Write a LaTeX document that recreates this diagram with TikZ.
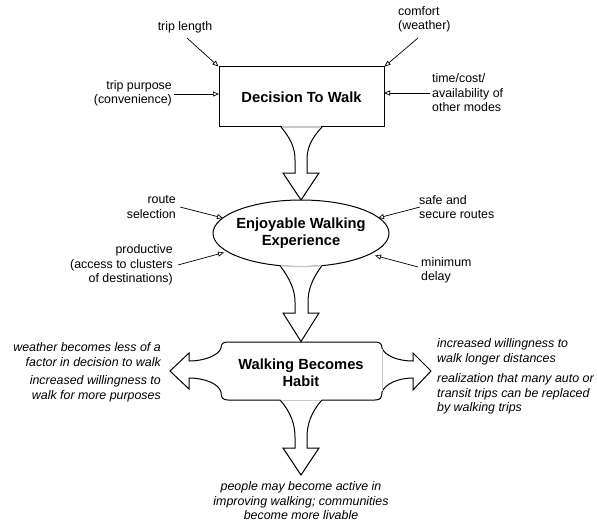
\documentclass[tikz,border=0pt]{standalone}
\usepackage{fontspec}
\setmainfont{Liberation Sans}
\usetikzlibrary{arrows.meta}
\begin{document}
\begin{tikzpicture}[x=1pt,y=-1pt,
  lbl/.style={inner sep=0pt, font=\fontsize{12.4}{14.5}\selectfont},
  ilbl/.style={inner sep=0pt, font=\fontsize{12.4}{14.5}\selectfont\itshape},
  ttl/.style={inner sep=0pt, align=center, font=\fontsize{14.7}{17}\selectfont\bfseries},
  inarr/.style={line width=0.7pt, -{Triangle[open,length=6pt,width=5pt]}},
  shp/.style={line width=1pt, fill=white, line join=miter},
  mouth/.style={line width=1.2pt, black!22}
]
\useasboundingbox (0,0) rectangle (597,524);

% Decision box
\node[draw, line width=1pt, fill=white, minimum width=165pt, minimum height=60pt, ttl] (dec) at (301.5,97) {Decision To Walk};

% arrow 1
\draw[shp] (281,127) .. controls (291,139) and (295,148) .. (295,160) -- (295,173) -- (283,173) -- (301,200) -- (319,173) -- (307,173) -- (307,160) .. controls (307,148) and (311,139) .. (322,127);
\draw[mouth] (281.6,127) -- (321.4,127);

% ellipse
\draw[line width=1pt, fill=white] (301,233.3) ellipse [x radius=88, y radius=33.3];
\node[ttl] (enj) at (301,233.5) {Enjoyable Walking\\Experience};

% Habit shape
\draw[shp] (228,342) .. controls (223,342) and (221,344) .. (221,348)
 .. controls (219,355) and (205,361) .. (189,361) -- (189,353) -- (170,371) -- (189,389) -- (189,378)
 .. controls (205,378) and (219,384) .. (221,392) .. controls (221,398) and (223,400) .. (228,400)
 -- (280,400) .. controls (291,412) and (295,425) .. (295,437) -- (295,448) -- (283,448) -- (301,475) -- (319,448) -- (307,448) -- (307,437) .. controls (307,425) and (311,412) .. (322,400)
 -- (375,400) .. controls (380,400) and (382,398) .. (382,392)
 .. controls (385,384) and (398,378) .. (413,378) -- (413,390) -- (431,371) -- (413,353) -- (413,361)
 .. controls (398,361) and (385,356) .. (382,348) .. controls (382,344) and (380,342) .. (375,342) -- cycle;
\draw[mouth, line width=0.9pt] (280.6,400) -- (321.4,400);
\draw[black!22, line width=0.8pt] (382.5,349) -- (382.5,391);
\node[ttl] (hab) at (301,372.5) {Walking Becomes\\Habit};

% arrow 2
\draw[shp] (280,265.6) .. controls (290,279) and (295,290) .. (295,302) -- (295,313) -- (283,313) -- (301,341.5) -- (319,313) -- (308,313) -- (308,302) .. controls (308,290) and (312,279) .. (322,265.6);
\begin{scope}
\clip (280.6,255) rectangle (321.4,275);
\draw[mouth] (301,233.3) ellipse [x radius=88, y radius=33.3];
\end{scope}

% input labels
\node[lbl] (tl) at (185,27) {trip length};
\node[lbl, align=left, anchor=west] (cf) at (398,19.5) {comfort\\(weather)};
\node[lbl, align=right, anchor=east] (tp) at (172,93.5) {trip purpose\\(convenience)};
\node[lbl, align=left, anchor=west] (tc) at (432,93) {time/cost/\\availability of\\other modes};
\node[lbl, align=right, anchor=east] (rs) at (176,207) {route\\selection};
\node[lbl, align=right, anchor=east] (pr) at (173,265) {productive\\(access to clusters\\of destinations)};
\node[lbl, align=left, anchor=west] (ss) at (419,207) {safe and\\secure routes};
\node[lbl, align=left, anchor=west] (md) at (421,270.5) {minimum\\delay};

\coordinate (tlT) at (187,38);
\coordinate (cfT) at (418,38);
\coordinate (tpT) at (174,94);
\coordinate (tcT) at (430,93);
\coordinate (rsT) at (180,207);
\coordinate (prT) at (178,265);
\coordinate (ssT) at (420,207);
\coordinate (mdT) at (418,267);
\coordinate (tpH) at (219,94);
\coordinate (tcH) at (384,93);
\coordinate (rsH) at (223,218);
\coordinate (prH) at (224,252.5);
\coordinate (ssH) at (378,218);
\coordinate (mdH) at (375,255.5);

\draw[inarr] (tlT) -- (dec.north west);
\draw[inarr] (cfT) -- (dec.north east);
\draw[inarr] (tpT) -- (tpH);
\draw[inarr] (tcT) -- (tcH);
\draw[inarr] (rsT) -- (rsH);
\draw[inarr] (prT) -- (prH);
\draw[inarr] (ssT) -- (ssH);
\draw[inarr] (mdT) -- (mdH);

% outcome labels
\node[ilbl, align=right, anchor=east] (o1) at (161,354.5) {weather becomes less of a\\factor in decision to walk};
\node[ilbl, align=right, anchor=east] (o2) at (161,389) {increased willingness to\\walk for more purposes};
\node[ilbl, align=left, anchor=west] (o3) at (437,352) {increased willingness to\\walk longer distances};
\node[ilbl, align=left, anchor=west] (o4) at (437,394) {realization that many auto or\\transit trips can be replaced\\by walking trips};
\node[ilbl, align=center] (o5) at (301,501) {people may become active in\\improving walking; communities\\become more livable};
\end{tikzpicture}
\end{document}
